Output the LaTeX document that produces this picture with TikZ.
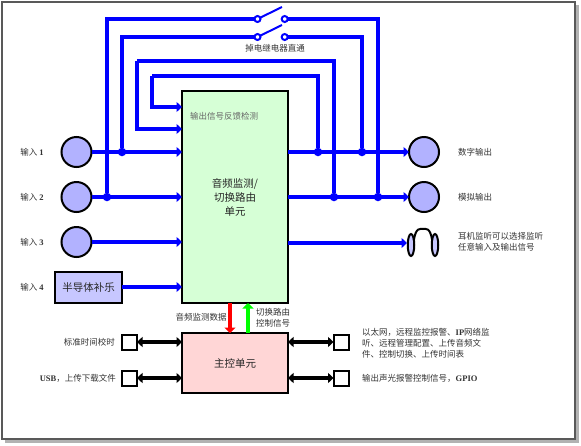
\documentclass[tikz,border=0pt]{standalone}
\usepackage{fontspec}
\setmainfont{Noto Sans CJK SC}
\newfontfamily\latbf{Liberation Serif}
\newcommand{\latword}[1]{{\latbf\bfseries #1}}
\usetikzlibrary{arrows.meta,calc,shapes.geometric}

\tikzset{
  wire/.style={draw=blue, line width=3.5pt},
  feed/.style={wire, -{Triangle[length=5.5pt,width=10pt]}},
  both/.style={draw=black, line width=3.5pt, {Triangle[length=5.5pt,width=10pt]}-{Triangle[length=5.5pt,width=10pt]}},
  port/.style={circle, draw=black, line width=2pt, fill=blue!30, minimum size=30pt, inner sep=0pt, outer sep=0pt},
  jack/.style={draw=black, line width=2pt, fill=white, minimum size=15pt, inner sep=0pt, outer sep=0pt},
  unit/.style={draw=black, line width=2pt, inner sep=0pt, outer sep=0pt, align=center, font=\fontsize{10.5}{14}\selectfont, text=black!85},
  contact/.style={circle, draw=blue, line width=2pt, fill=white, minimum size=6pt, inner sep=0pt, outer sep=0pt},
  joint/.style={circle, fill=blue, minimum size=8.5pt, inner sep=0pt, outer sep=0pt},
  earcup/.style={ellipse, draw=black, line width=2pt, fill=blue!22, minimum width=6.5pt, minimum height=22pt, inner sep=0pt, outer sep=0pt},
  lab/.style={font=\fontsize{8.5}{11}\selectfont, text=black!80, inner sep=0pt, align=left}
}

\begin{document}
\begin{tikzpicture}[x=1pt, y=-1pt, >=Stealth]
  \useasboundingbox (0,0) rectangle (581,445);
  % page frame with its shadow
  \fill[black!30] (5,5) rectangle (579,443);
  \draw[fill=white, draw=black!65, line width=2pt] (2,1.5) rectangle (575,439);

  % units
  \node[unit, fill=green!16, minimum width=106pt, minimum height=212pt] (route) at (235,197) {音频监测/\\切换路由\\单元};
  \node[unit, fill=red!16, minimum width=106pt, minimum height=60pt] (ctrl) at (235,363) {主控单元};
  \node[unit, fill=blue!22, minimum width=67pt, minimum height=31pt] (in4) at (88.5,287) {半导体补乐};

  % input and output ports
  \foreach \n/\y in {in1/152, in2/197, in3/242} {
    \node[port] (\n) at (76.5,\y) {};
  }
  \foreach \n/\y in {out1/152, out2/197} {
    \node[port] (\n) at (424,\y) {};
  }

  % relay contacts
  \node[contact] (sa) at (257.5,19) {};
  \node[contact] (sb) at (284.7,19) {};
  \node[contact] (sc) at (257.5,37) {};
  \node[contact] (sd) at (284.7,37) {};
  \coordinate (bladea) at (282,7);
  \coordinate (bladeb) at (282,25);
  \draw[wire, line width=2pt] (sa) -- (bladea);
  \draw[wire, line width=2pt] (sc) -- (bladeb);

  % junctions on the signal lines
  \node[joint] (ja) at (122,152) {};
  \node[joint] (jb) at (107,197) {};
  \node[joint] (jc) at (318,152) {};
  \node[joint] (jd) at (362,152) {};
  \node[joint] (je) at (334,197) {};
  \node[joint] (jf) at (378,197) {};

  % signal lines into and out of the routing unit
  \foreach \n in {in1, in2, in3, in4} {
    \draw[feed] (\n) -- (\n -| route.west);
  }
  \foreach \n in {out1, out2} {
    \draw[feed] (\n -| route.east) -- (\n);
  }

  % bypass lines over the top
  \draw[wire] (jb) |- (sa);
  \draw[wire] (ja) |- (sc);
  \draw[wire] (sb) -| (jf);
  \draw[wire] (sd) -| (jd);

  % feedback lines
  \coordinate (fba) at (137,61);
  \coordinate (fbb) at (152,76);
  \coordinate (fbc) at (182,129);
  \coordinate (fbd) at (182,107);
  \draw[wire] (je) |- (fba);
  \draw[feed] (fba) |- (fbc);
  \draw[wire] (jc) |- (fbb);
  \draw[feed] (fbb) |- (fbd);

  % headphones
  \node[earcup] (earl) at (411,245) {};
  \node[earcup] (earr) at (435,245) {};
  \draw[black, line width=2pt] (earl.60) .. controls (416,227) and (420,229) .. (423,229) .. controls (426,229) and (430,227) .. (earr.120);
  \coordinate (hpin) at (407,243);
  \coordinate (hpout) at (288,243);
  \draw[feed] (hpout) -- (hpin);

  % control unit links
  \coordinate (dn) at (230,303);
  \coordinate (up) at (248,333);
  \draw[draw=red, line width=3.5pt, -{Triangle[length=5.5pt,width=11pt]}] (dn) -- (dn |- ctrl.north);
  \draw[draw=green, line width=3.5pt, -{Triangle[length=5.5pt,width=11pt]}] (up) -- (up |- route.south);
  \foreach \n/\x/\y in {ja/129.5/342, jb/129.5/378, jc/341/342, jd/341/378} {
    \node[jack] (box\n) at (\x,\y) {};
  }
  \draw[both] (boxja) -- (boxja -| ctrl.west);
  \draw[both] (boxjb) -- (boxjb -| ctrl.west);
  \draw[both] (boxjc) -- (boxjc -| ctrl.east);
  \draw[both] (boxjd) -- (boxjd -| ctrl.east);

  % texts
  \foreach \n/\y/\num in {ta/152/1, tb/197/2, tc/242/3, td/287/4} {
    \node[lab] (\n) at (32,\y) {输入 \latword{\num}};
  }
  \node[lab] (relay) at (275,48) {掉电继电器直通};
  \node[lab, text=black!60, anchor=west] (fbtext) at (190,116) {输出信号反馈检测};
  \node[lab, anchor=west] (dig) at (458,152) {数字输出};
  \node[lab, anchor=west] (ana) at (458,197) {模拟输出};
  \node[lab, anchor=west] (hp) at (458,241.5) {耳机监听可以选择监听\\任意输入及输出信号};
  \node[lab] (mon) at (201,317) {音频监测数据};
  \node[lab, anchor=west] (sw) at (256,317.5) {切换路由\\控制信号};
  \node[lab, anchor=east] (clock) at (115,342) {标准时间校时};
  \node[lab, anchor=east] (usb) at (116,378) {\latword{USB}，上传下载文件};
  \node[lab, anchor=west] (eth) at (362,343) {以太网，远程监控报警、\latword{IP}网络监\\听、远程管理配置、上传音频文\\件、控制切换、上传时间表};
  \node[lab, anchor=west] (gpio) at (362,378) {输出声光报警控制信号，\latword{GPIO}};
\end{tikzpicture}
\end{document}
